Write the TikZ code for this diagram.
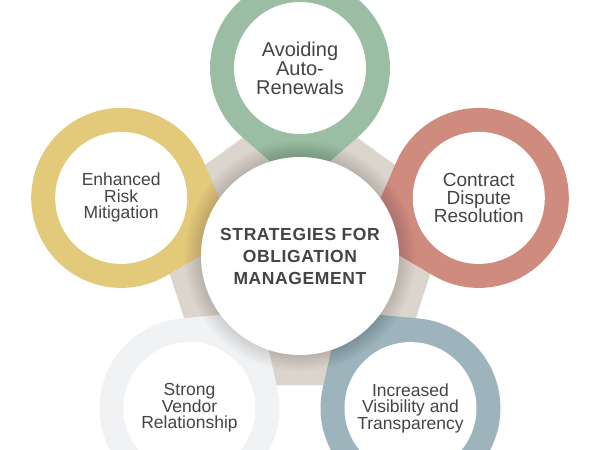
\documentclass[tikz,border=0pt]{standalone}
\usepackage{fontspec}
\setmainfont{Liberation Sans}
\newfontfamily\hubfont[LetterSpace=3.5]{Liberation Sans}
\definecolor{beigec}{HTML}{DCD5CD}
\definecolor{greenc}{HTML}{9BBDA4}
\definecolor{yellowc}{HTML}{E3C97A}
\definecolor{redc}{HTML}{D08B7F}
\definecolor{grayc}{HTML}{F1F2F4}
\definecolor{bluec}{HTML}{9EB4BD}
\definecolor{txt}{HTML}{444444}
\begin{document}
\begin{tikzpicture}[x=1pt,y=1pt,
  hole/.style={circle, fill=white, minimum size=132pt, inner sep=0pt, align=center, text=txt},
  hubnode/.style={circle, fill=white, minimum size=198pt, inner sep=0pt, align=center, text=txt,
    font=\hubfont\bfseries\fontsize{17.5}{22}\selectfont}]
\useasboundingbox (-300,-194) rectangle (300,256);
\clip (-300,-194) rectangle (300,256);
% pentagon background
\fill[beigec] (90:160) -- (162:160) -- (234:160) -- (306:160) -- (18:160) -- cycle;
% petals (teardrops pointing to the centre)
\foreach \a/\c in {90/greenc,162/yellowc,234/grayc,306/bluec,18/redc}{
  \fill[\c] (\a:188) ++(\a+221.4:90) arc[start angle=\a+221.4, delta angle=277.2, radius=90] -- (\a:68) -- cycle;
}
% soft shadow around the hub
\foreach \r in {99,100,...,116}{
  \fill[black, opacity=0.007] (0,0) circle (\r);
}
% petal holes with labels
\node[hole, font=\fontsize{20}{19}\selectfont] (avoid) at (90:188) {Avoiding\\Auto-\\Renewals};
\node[hole, font=\fontsize{17.5}{16.5}\selectfont] (risk) at (162:188) {Enhanced\\Risk\\Mitigation};
\node[hole, font=\fontsize{17.5}{16.5}\selectfont] (vendor) at (234:188) {Strong\\Vendor\\Relationship};
\node[hole, font=\fontsize{17.5}{16.5}\selectfont] (visib) at (306:188) {Increased\\Visibility and\\Transparency};
\node[hole, font=\fontsize{19}{18.3}\selectfont] (dispute) at (18:188) {Contract\\Dispute\\Resolution};
% hub
\node[hubnode] (hub) at (0,0) {STRATEGIES FOR\\OBLIGATION\\MANAGEMENT};
\end{tikzpicture}
\end{document}
